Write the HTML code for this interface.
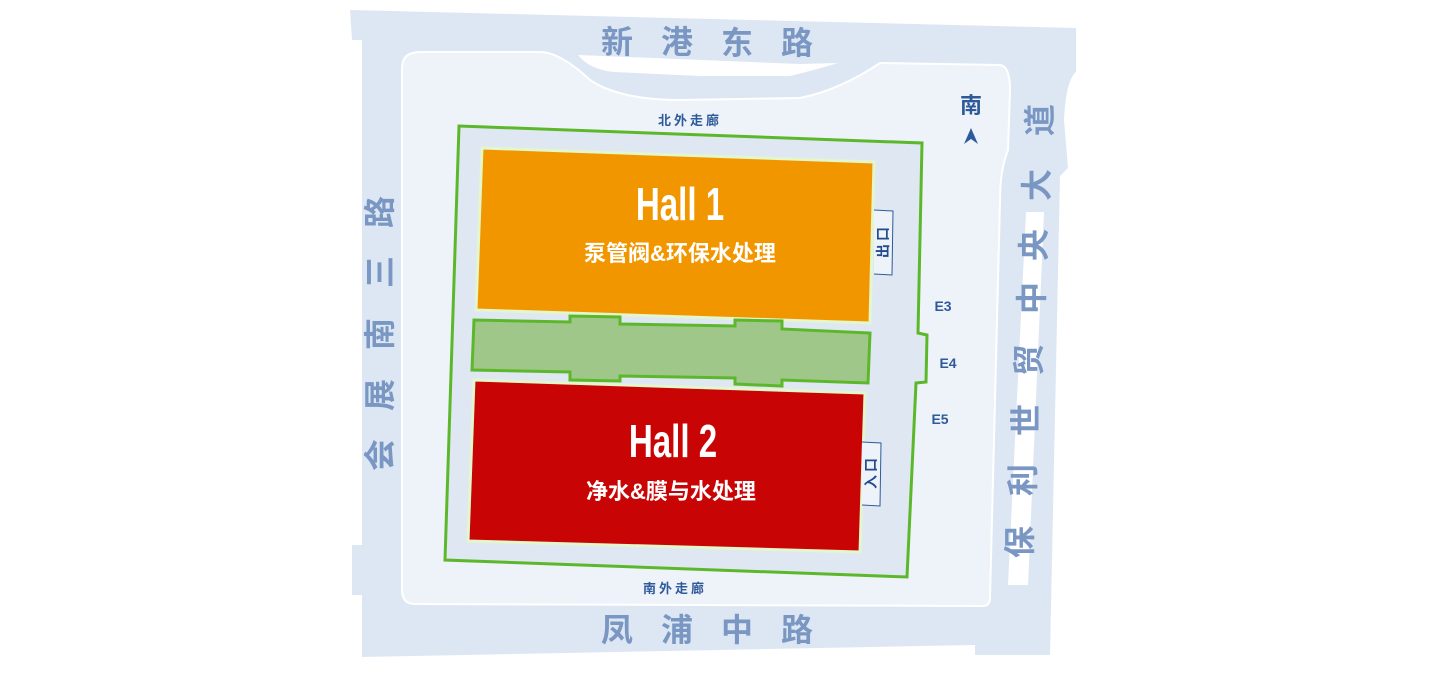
<!DOCTYPE html>
<html><head><meta charset="utf-8"><style>
html,body{margin:0;padding:0;background:#fff;width:1440px;height:674px;overflow:hidden}
svg{display:block}
text{font-family:"Liberation Sans","Noto Sans CJK SC",sans-serif;font-weight:bold}
.r{font-size:32px;fill:#7a97c4;text-anchor:middle;dominant-baseline:central}
</style></head><body>
<svg width="1440" height="674" viewBox="0 0 1440 674" xmlns="http://www.w3.org/2000/svg">
<!-- outer road area -->
<path d="M350,10 L1076,28 L1076,72 Q1066,80 1064,120 L1068,168 L1060,176 L1050,655 L975,655 L975,645 L362,657 L362,595 L352,595 L352,545 L362,545 L362,40 L352,40 Z" fill="#dde7f3"/>
<!-- inner light area -->
<path d="M420,52 L540,52 Q560,52 590,80 Q620,100 680,100 L800,98 Q840,90 880,63 L1000,65 Q1010,66 1010,90 L1008,150 Q1000,170 1000,200 L990,598 Q990,606 982,606 L415,604 Q402,604 402,590 L402,68 Q402,52 420,52 Z" fill="#eef3fa" stroke="#fff" stroke-width="2"/>
<!-- top notch white -->
<path d="M578,55 Q590,70 615,72 L700,76 L790,76 Q815,70 838,63 L800,64 Z" fill="#fff"/>
<!-- right white strip -->
<path d="M1026,212 L1044,212 L1028,585 L1008,585 Z" fill="#fff"/>
<!-- green outline -->
<path d="M459,126 L922,143 L918,333 L927,335 L926,382 L916,383 L907,577 L445,560 Z" fill="#dfe7f3" stroke="#5cb82a" stroke-width="3"/>
<!-- Hall 1 -->
<path d="M482,148 L874,162 L870,323 L476,310 Z" fill="#f29600" stroke="#e4f6cc" stroke-width="3"/>
<!-- connector -->
<path d="M474,320 L570,322 L570,316 L620,317 L620,324 L735,326 L735,320 L782,321 L782,329 L870,333 L868,383 L782,380 L782,386 L735,384 L735,378 L620,376 L620,381 L570,380 L570,372 L472,370 Z" fill="#9fc78a" stroke="#5cb82a" stroke-width="3"/>
<!-- Hall 2 -->
<path d="M474,380 L865,393 L860,552 L468,541 Z" fill="#c80404" stroke="#e4f6cc" stroke-width="3"/>
<!-- exit boxes -->
<path d="M874,210 L893,211 L892,275 L874,274" fill="#eef3fa" stroke="#2f5a9a" stroke-width="1"/>
<path d="M862,442 L881,443 L880,506 L862,505" fill="#eef3fa" stroke="#2f5a9a" stroke-width="1"/>
<text transform="translate(883,234) rotate(-90)" font-size="14" fill="#224c8c" text-anchor="middle" dominant-baseline="central">口</text>
<text transform="translate(883,251) rotate(-90)" font-size="14" fill="#224c8c" text-anchor="middle" dominant-baseline="central">出</text>
<text transform="translate(871,465) rotate(-90)" font-size="14" fill="#224c8c" text-anchor="middle" dominant-baseline="central">口</text>
<text transform="translate(871,482) rotate(-90)" font-size="14" fill="#224c8c" text-anchor="middle" dominant-baseline="central">入</text>
<!-- hall texts -->
<text transform="translate(680,220) scale(0.72,1)" font-size="46" fill="#fff" text-anchor="middle">Hall 1</text>
<text x="680" y="261" font-size="22" fill="#fff" text-anchor="middle">泵管阀&amp;环保水处理</text>
<text transform="translate(673,457) scale(0.72,1)" font-size="46" fill="#fff" text-anchor="middle">Hall 2</text>
<text x="671" y="499" font-size="22" fill="#fff" text-anchor="middle">净水&amp;膜与水处理</text>
<!-- corridor labels -->
<text x="690" y="125" font-size="13" fill="#2f5a9a" text-anchor="middle" letter-spacing="3">北外走廊</text>
<text x="675" y="593" font-size="13" fill="#2f5a9a" text-anchor="middle" letter-spacing="3">南外走廊</text>
<text x="943" y="311" font-size="14" fill="#2f5a9a" text-anchor="middle">E3</text>
<text x="948" y="368" font-size="14" fill="#2f5a9a" text-anchor="middle">E4</text>
<text x="940" y="424" font-size="14" fill="#2f5a9a" text-anchor="middle">E5</text>
<!-- north -->
<text x="971" y="113" font-size="22" fill="#2f5a9a" text-anchor="middle">南</text>
<path d="M971,128 L978,144 L971,139 L964,144 Z" fill="#2f5a9a"/>
<!-- road names top -->
<text class="r" x="617" y="42">新</text>
<text class="r" x="677" y="42">港</text>
<text class="r" x="737" y="43">东</text>
<text class="r" x="797" y="43">路</text>
<!-- bottom -->
<text class="r" x="617" y="630">凤</text>
<text class="r" x="677" y="630">浦</text>
<text class="r" x="737" y="630">中</text>
<text class="r" x="797" y="630">路</text>
<!-- left -->
<text class="r" transform="translate(380,212) rotate(-90)">路</text>
<text class="r" transform="translate(380,272) rotate(-90)">三</text>
<text class="r" transform="translate(380,334) rotate(-90)">南</text>
<text class="r" transform="translate(380,395) rotate(-90)">展</text>
<text class="r" transform="translate(380,455) rotate(-90)">会</text>
<!-- right -->
<text class="r" transform="translate(1040,120) rotate(-90)">道</text>
<text class="r" transform="translate(1037,185) rotate(-90)">大</text>
<text class="r" transform="translate(1034,245) rotate(-90)">央</text>
<text class="r" transform="translate(1032,298) rotate(-90)">中</text>
<text class="r" transform="translate(1029,360) rotate(-90)">贸</text>
<text class="r" transform="translate(1026,420) rotate(-90)">世</text>
<text class="r" transform="translate(1023,480) rotate(-90)">利</text>
<text class="r" transform="translate(1020,542) rotate(-90)">保</text>
</svg>
</body></html>
